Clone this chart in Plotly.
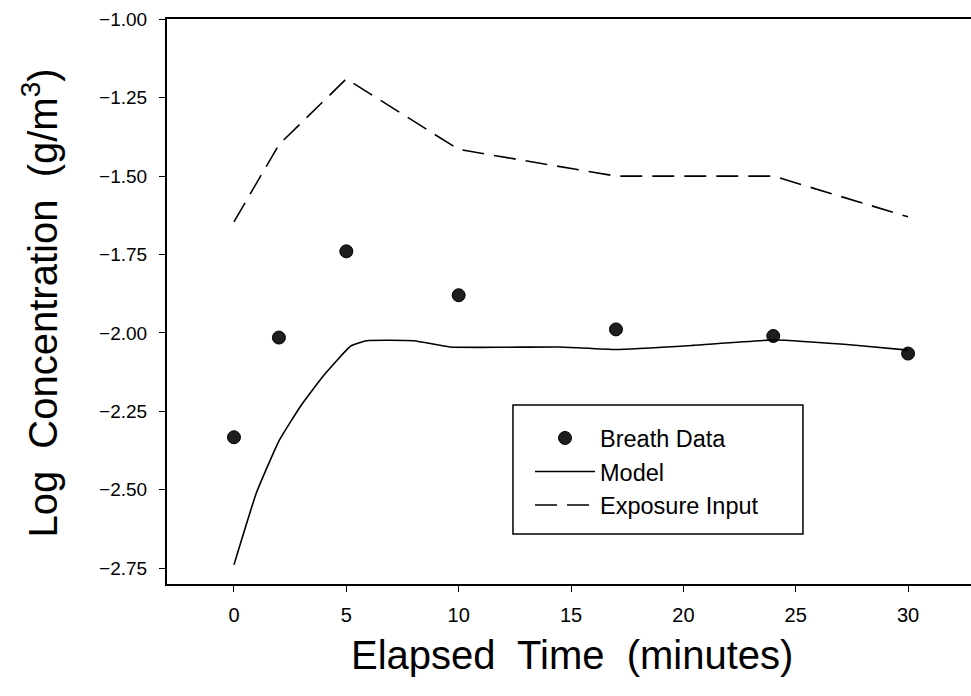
import plotly.graph_objects as go

# Breath data (points)
breath_t = [0, 2, 5, 10, 17, 24, 30]
breath_v = [-2.333, -2.015, -1.740, -1.880, -1.989, -2.010, -2.066]

# Model (solid line)
model_t = [0, 1, 2, 3, 4, 5.2, 5.9, 8, 9.6, 12, 14.5, 17, 20.4, 24, 27.9, 30]
model_v = [-2.74, -2.51, -2.345, -2.23, -2.135, -2.042, -2.025, -2.025, -2.045,
           -2.046, -2.045, -2.053, -2.040, -2.023, -2.041, -2.055]

# Exposure input (dashed line)
expo_t = [0, 2, 5, 10, 17, 24, 30]
expo_v = [-1.646, -1.40, -1.19, -1.415, -1.50, -1.50, -1.63]

y_ticks = [-1.00, -1.25, -1.50, -1.75, -2.00, -2.25, -2.50, -2.75]
x_ticks = [0, 5, 10, 15, 20, 25, 30]

FONT = "Liberation Sans, Arial, sans-serif"

fig = go.Figure()
fig.add_trace(go.Scatter(
    x=breath_t, y=breath_v, mode="markers", name="Breath Data",
    marker=dict(symbol="circle", size=13, color="#1e1e1e",
                line=dict(color="#000000", width=1)),
))
fig.add_trace(go.Scatter(
    x=model_t, y=model_v, mode="lines", name="Model",
    line=dict(color="#000000", width=1.6, shape="spline", smoothing=0.4),
))
fig.add_trace(go.Scatter(
    x=expo_t, y=expo_v, mode="lines", name="Exposure Input",
    line=dict(color="#000000", width=1.6, dash="22px,10px"),
))

fig.update_layout(
    width=971, height=696,
    margin=dict(l=167, r=0, t=19, b=112),
    paper_bgcolor="white", plot_bgcolor="white",
    font=dict(family=FONT, color="#000000"),
    showlegend=True,
    legend=dict(
        x=0.4515, y=0.297, xanchor="left", yanchor="top",
        bgcolor="rgba(0,0,0,0)", borderwidth=0,
        font=dict(size=23.5, family=FONT), itemwidth=60,
        tracegroupgap=0,
    ),
    shapes=[
        dict(type="rect", xref="paper", yref="paper",
             x0=0.4303, x1=0.791, y0=0.0885, y1=0.3168,
             line=dict(color="#000000", width=1.5), fillcolor="white",
             layer="above"),
    ],
    xaxis=dict(
        range=[-2.98, 32.8], tickvals=x_ticks, ticktext=[str(v) for v in x_ticks],
        showgrid=False, zeroline=False,
        showline=True, linecolor="#000000", linewidth=2, mirror=True,
        ticks="outside", ticklen=6, tickwidth=1, tickcolor="#000000",
        tickfont=dict(size=20, family=FONT), ticklabelstandoff=6,
    ),
    yaxis=dict(
        range=[-2.801, -0.999], tickvals=y_ticks, tickformat=".2f",
        showgrid=False, zeroline=False,
        showline=True, linecolor="#000000", linewidth=2, mirror=False,
        ticks="outside", ticklen=6, tickwidth=1, tickcolor="#000000",
        tickfont=dict(size=19, family=FONT), ticklabelstandoff=8,
    ),
    annotations=[
        dict(text="Elapsed  Time  (minutes)", xref="paper", yref="paper",
             x=0.504, y=-0.126, xanchor="center", yanchor="middle",
             showarrow=False, font=dict(size=40, family=FONT)),
        dict(text="Log  Concentration  (g/m<sup>3</sup>)", xref="paper", yref="paper",
             x=-0.158, y=0.498, xanchor="center", yanchor="middle", textangle=-90,
             showarrow=False, font=dict(size=40, family=FONT)),
    ],
)

fig.write_html("out.html")
